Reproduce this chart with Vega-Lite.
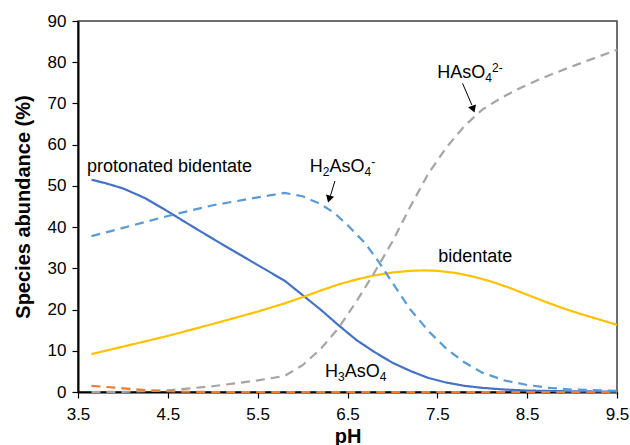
{
  "$schema": "https://vega.github.io/schema/vega-lite/v6.json",
  "width": 539,
  "height": 371,
  "autosize": "none",
  "padding": {"left": 78, "top": 21, "right": 13, "bottom": 53},
  "config": {
    "view": {"stroke": "#404040", "strokeWidth": 1.5},
    "font": "Liberation Sans",
    "text": {"font": "Liberation Sans", "color": "#000000", "baseline": "alphabetic", "align": "left"},
    "axis": {
      "grid": false,
      "domainColor": "#000000",
      "domainWidth": 2,
      "tickColor": "#000000",
      "tickWidth": 1.2,
      "tickSize": 6,
      "labelFont": "Liberation Sans",
      "labelFontSize": 17,
      "labelColor": "#000000",
      "titleFont": "Liberation Sans",
      "titleFontSize": 20,
      "titleFontWeight": "bold",
      "titleColor": "#000000"
    }
  },
  "datasets": {
    "curves": [
      {"species": "protonated bidentate", "pH": 3.65, "v": 51.5},
      {"species": "protonated bidentate", "pH": 3.8, "v": 50.7},
      {"species": "protonated bidentate", "pH": 4.0, "v": 49.4},
      {"species": "protonated bidentate", "pH": 4.25, "v": 47.0},
      {"species": "protonated bidentate", "pH": 4.5, "v": 43.8},
      {"species": "protonated bidentate", "pH": 4.8, "v": 39.8},
      {"species": "protonated bidentate", "pH": 5.1, "v": 35.9},
      {"species": "protonated bidentate", "pH": 5.5, "v": 30.8},
      {"species": "protonated bidentate", "pH": 5.8, "v": 27.0},
      {"species": "protonated bidentate", "pH": 6.0, "v": 23.5},
      {"species": "protonated bidentate", "pH": 6.2, "v": 20.0},
      {"species": "protonated bidentate", "pH": 6.4, "v": 16.2},
      {"species": "protonated bidentate", "pH": 6.6, "v": 12.6},
      {"species": "protonated bidentate", "pH": 6.8, "v": 9.7},
      {"species": "protonated bidentate", "pH": 7.0, "v": 7.1},
      {"species": "protonated bidentate", "pH": 7.2, "v": 5.1},
      {"species": "protonated bidentate", "pH": 7.4, "v": 3.4},
      {"species": "protonated bidentate", "pH": 7.6, "v": 2.3},
      {"species": "protonated bidentate", "pH": 7.8, "v": 1.5},
      {"species": "protonated bidentate", "pH": 8.0, "v": 1.0},
      {"species": "protonated bidentate", "pH": 8.25, "v": 0.6},
      {"species": "protonated bidentate", "pH": 8.5, "v": 0.35},
      {"species": "protonated bidentate", "pH": 9.0, "v": 0.15},
      {"species": "protonated bidentate", "pH": 9.5, "v": 0.1},

      {"species": "bidentate", "pH": 3.65, "v": 9.2},
      {"species": "bidentate", "pH": 4.0, "v": 11.0},
      {"species": "bidentate", "pH": 4.5, "v": 13.6},
      {"species": "bidentate", "pH": 5.0, "v": 16.5},
      {"species": "bidentate", "pH": 5.5, "v": 19.5},
      {"species": "bidentate", "pH": 5.8, "v": 21.5},
      {"species": "bidentate", "pH": 6.0, "v": 23.0},
      {"species": "bidentate", "pH": 6.2, "v": 24.6},
      {"species": "bidentate", "pH": 6.4, "v": 26.1},
      {"species": "bidentate", "pH": 6.6, "v": 27.3},
      {"species": "bidentate", "pH": 6.8, "v": 28.3},
      {"species": "bidentate", "pH": 7.0, "v": 29.0},
      {"species": "bidentate", "pH": 7.2, "v": 29.4},
      {"species": "bidentate", "pH": 7.35, "v": 29.5},
      {"species": "bidentate", "pH": 7.5, "v": 29.4},
      {"species": "bidentate", "pH": 7.7, "v": 28.9},
      {"species": "bidentate", "pH": 7.9, "v": 28.0},
      {"species": "bidentate", "pH": 8.1, "v": 26.8},
      {"species": "bidentate", "pH": 8.3, "v": 25.3},
      {"species": "bidentate", "pH": 8.5, "v": 23.6},
      {"species": "bidentate", "pH": 8.7, "v": 21.9},
      {"species": "bidentate", "pH": 8.9, "v": 20.3},
      {"species": "bidentate", "pH": 9.1, "v": 18.9},
      {"species": "bidentate", "pH": 9.3, "v": 17.6},
      {"species": "bidentate", "pH": 9.5, "v": 16.3},

      {"species": "H2AsO4", "pH": 3.65, "v": 37.8},
      {"species": "H2AsO4", "pH": 4.0, "v": 39.8},
      {"species": "H2AsO4", "pH": 4.5, "v": 42.7},
      {"species": "H2AsO4", "pH": 5.0, "v": 45.3},
      {"species": "H2AsO4", "pH": 5.5, "v": 47.2},
      {"species": "H2AsO4", "pH": 5.8, "v": 48.3},
      {"species": "H2AsO4", "pH": 6.0, "v": 47.5},
      {"species": "H2AsO4", "pH": 6.2, "v": 45.6},
      {"species": "H2AsO4", "pH": 6.35, "v": 43.5},
      {"species": "H2AsO4", "pH": 6.5, "v": 40.5},
      {"species": "H2AsO4", "pH": 6.7, "v": 36.0},
      {"species": "H2AsO4", "pH": 6.85, "v": 31.5},
      {"species": "H2AsO4", "pH": 7.0, "v": 26.5},
      {"species": "H2AsO4", "pH": 7.2, "v": 20.0},
      {"species": "H2AsO4", "pH": 7.4, "v": 14.8},
      {"species": "H2AsO4", "pH": 7.6, "v": 10.5},
      {"species": "H2AsO4", "pH": 7.8, "v": 7.2},
      {"species": "H2AsO4", "pH": 8.0, "v": 4.7},
      {"species": "H2AsO4", "pH": 8.25, "v": 2.8},
      {"species": "H2AsO4", "pH": 8.5, "v": 1.7},
      {"species": "H2AsO4", "pH": 8.75, "v": 1.0},
      {"species": "H2AsO4", "pH": 9.0, "v": 0.6},
      {"species": "H2AsO4", "pH": 9.5, "v": 0.3},

      {"species": "HAsO4", "pH": 3.65, "v": 0.0},
      {"species": "HAsO4", "pH": 4.0, "v": 0.05},
      {"species": "HAsO4", "pH": 4.5, "v": 0.4},
      {"species": "HAsO4", "pH": 5.0, "v": 1.4},
      {"species": "HAsO4", "pH": 5.5, "v": 2.8},
      {"species": "HAsO4", "pH": 5.8, "v": 3.9},
      {"species": "HAsO4", "pH": 6.0, "v": 6.5},
      {"species": "HAsO4", "pH": 6.2, "v": 10.4},
      {"species": "HAsO4", "pH": 6.4, "v": 15.5},
      {"species": "HAsO4", "pH": 6.6, "v": 22.0},
      {"species": "HAsO4", "pH": 6.8, "v": 29.0},
      {"species": "HAsO4", "pH": 7.0, "v": 36.5},
      {"species": "HAsO4", "pH": 7.2, "v": 45.0},
      {"species": "HAsO4", "pH": 7.4, "v": 53.0},
      {"species": "HAsO4", "pH": 7.6, "v": 59.3},
      {"species": "HAsO4", "pH": 7.8, "v": 64.5},
      {"species": "HAsO4", "pH": 8.0, "v": 68.5},
      {"species": "HAsO4", "pH": 8.2, "v": 71.2},
      {"species": "HAsO4", "pH": 8.4, "v": 73.5},
      {"species": "HAsO4", "pH": 8.6, "v": 75.5},
      {"species": "HAsO4", "pH": 8.8, "v": 77.3},
      {"species": "HAsO4", "pH": 9.0, "v": 79.0},
      {"species": "HAsO4", "pH": 9.25, "v": 81.0},
      {"species": "HAsO4", "pH": 9.5, "v": 83.0},

      {"species": "H3AsO4", "pH": 3.65, "v": 1.5},
      {"species": "H3AsO4", "pH": 4.0, "v": 0.9},
      {"species": "H3AsO4", "pH": 4.3, "v": 0.4},
      {"species": "H3AsO4", "pH": 4.6, "v": 0.1},
      {"species": "H3AsO4", "pH": 5.0, "v": 0.0},
      {"species": "H3AsO4", "pH": 6.0, "v": 0.0},
      {"species": "H3AsO4", "pH": 7.0, "v": 0.0},
      {"species": "H3AsO4", "pH": 8.0, "v": 0.0},
      {"species": "H3AsO4", "pH": 9.0, "v": 0.0},
      {"species": "H3AsO4", "pH": 9.5, "v": 0.0}
    ],
    "labels": [
      {"label": "protonated bidentate", "pH": 3.6, "v": 53.4},
      {"label": "bidentate", "pH": 7.51, "v": 31.5}
    ],
    "anchors": [
      {"name": "H2AsO4", "pH": 6.08, "v": 53.4},
      {"name": "HAsO4", "pH": 7.5, "v": 76.1},
      {"name": "H3AsO4", "pH": 6.25, "v": 3.7}
    ],
    "arrows": [
      {"name": "a1", "pH": 6.36, "v": 51.2, "pH2": 6.31, "v2": 47.6},
      {"name": "a2", "pH": 7.78, "v": 74.9, "pH2": 7.885, "v2": 69.6}
    ],
    "heads": [
      {"name": "a1", "pH": 6.295, "v": 46.8},
      {"name": "a2", "pH": 7.9, "v": 68.6}
    ]
  },
  "layer": [
    {
      "data": {"name": "curves"},
      "mark": {"type": "line", "strokeWidth": 2.2},
      "encoding": {
        "x": {
          "field": "pH", "type": "quantitative",
          "scale": {"domain": [3.5, 9.5], "nice": false, "zero": false},
          "axis": {"values": [3.5, 4.5, 5.5, 6.5, 7.5, 8.5, 9.5], "format": ".1f", "title": "pH", "labelPadding": 8, "titlePadding": 4, "labelFlush": false}
        },
        "y": {
          "field": "v", "type": "quantitative",
          "scale": {"domain": [0, 90], "nice": false},
          "axis": {"values": [0, 10, 20, 30, 40, 50, 60, 70, 80, 90], "title": "Species abundance (%)", "labelPadding": 6, "titlePadding": 14}
        },
        "color": {
          "field": "species", "type": "nominal", "legend": null,
          "scale": {
            "domain": ["protonated bidentate", "bidentate", "H2AsO4", "HAsO4", "H3AsO4"],
            "range": ["#4472C4", "#FFC000", "#5B9BD5", "#A5A5A5", "#ED7D31"]
          }
        },
        "strokeDash": {
          "field": "species", "type": "nominal", "legend": null,
          "scale": {
            "domain": ["protonated bidentate", "bidentate", "H2AsO4", "HAsO4", "H3AsO4"],
            "range": [[1, 0], [1, 0], [9, 6], [9, 6], [9, 6]]
          }
        },
        "order": {"field": "pH", "type": "quantitative"}
      }
    },
    {
      "data": {"name": "labels"},
      "mark": {"type": "text", "fontSize": 18},
      "encoding": {
        "x": {"field": "pH", "type": "quantitative"},
        "y": {"field": "v", "type": "quantitative"},
        "text": {"field": "label"}
      }
    },
    {
      "data": {"name": "anchors"},
      "transform": [{"filter": "datum.name == 'H2AsO4'"}],
      "layer": [
        {"mark": {"type": "text", "fontSize": 18, "text": "H", "dx": 0}},
        {"mark": {"type": "text", "fontSize": 12, "text": "2", "dx": 13, "dy": 4}},
        {"mark": {"type": "text", "fontSize": 18, "text": "AsO", "dx": 19.7}},
        {"mark": {"type": "text", "fontSize": 12, "text": "4", "dx": 54.7, "dy": 4}},
        {"mark": {"type": "text", "fontSize": 12, "text": "-", "dx": 61.4, "dy": -6}}
      ],
      "encoding": {
        "x": {"field": "pH", "type": "quantitative"},
        "y": {"field": "v", "type": "quantitative"}
      }
    },
    {
      "data": {"name": "anchors"},
      "transform": [{"filter": "datum.name == 'HAsO4'"}],
      "layer": [
        {"mark": {"type": "text", "fontSize": 18, "text": "HAsO", "dx": 0}},
        {"mark": {"type": "text", "fontSize": 12, "text": "4", "dx": 48, "dy": 4}},
        {"mark": {"type": "text", "fontSize": 12, "text": "2-", "dx": 54.7, "dy": -6}}
      ],
      "encoding": {
        "x": {"field": "pH", "type": "quantitative"},
        "y": {"field": "v", "type": "quantitative"}
      }
    },
    {
      "data": {"name": "anchors"},
      "transform": [{"filter": "datum.name == 'H3AsO4'"}],
      "layer": [
        {"mark": {"type": "text", "fontSize": 18, "text": "H", "dx": 0}},
        {"mark": {"type": "text", "fontSize": 12, "text": "3", "dx": 13, "dy": 4}},
        {"mark": {"type": "text", "fontSize": 18, "text": "AsO", "dx": 19.7}},
        {"mark": {"type": "text", "fontSize": 12, "text": "4", "dx": 54.7, "dy": 4}}
      ],
      "encoding": {
        "x": {"field": "pH", "type": "quantitative"},
        "y": {"field": "v", "type": "quantitative"}
      }
    },
    {
      "data": {"name": "arrows"},
      "mark": {"type": "rule", "color": "#000000", "strokeWidth": 1},
      "encoding": {
        "x": {"field": "pH", "type": "quantitative"},
        "y": {"field": "v", "type": "quantitative"},
        "x2": {"field": "pH2"},
        "y2": {"field": "v2"}
      }
    },
    {
      "data": {"name": "heads"},
      "transform": [{"filter": "datum.name == 'a1'"}],
      "mark": {"type": "point", "shape": "triangle-down", "filled": true, "color": "#000000", "size": 70, "angle": 16, "opacity": 1},
      "encoding": {
        "x": {"field": "pH", "type": "quantitative"},
        "y": {"field": "v", "type": "quantitative"}
      }
    },
    {
      "data": {"name": "heads"},
      "transform": [{"filter": "datum.name == 'a2'"}],
      "mark": {"type": "point", "shape": "triangle-down", "filled": true, "color": "#000000", "size": 70, "angle": -20, "opacity": 1},
      "encoding": {
        "x": {"field": "pH", "type": "quantitative"},
        "y": {"field": "v", "type": "quantitative"}
      }
    }
  ]
}
